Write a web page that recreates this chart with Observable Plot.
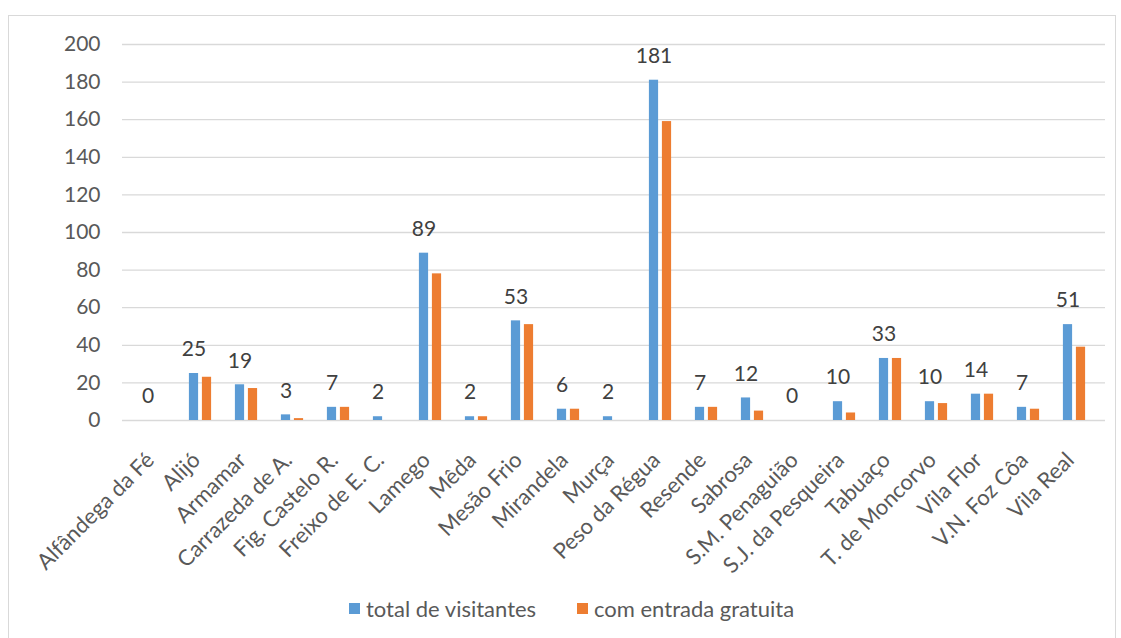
<!DOCTYPE html>
<html>
<head>
<meta charset="utf-8">
<script src="https://cdn.jsdelivr.net/npm/d3@7"></script>
<script src="https://cdn.jsdelivr.net/npm/@observablehq/plot@0.6"></script>
<style>
  html, body { margin: 0; padding: 0; background: #fff; overflow: hidden; }
  body { width: 1121px; height: 638px; position: relative; font-family: Lato, "Open Sans", sans-serif; }
  #frame { position: absolute; left: 8px; top: 15px; width: 1108px; height: 700px; border: 1.5px solid #d9d9d9; box-sizing: border-box; pointer-events: none; }
  #chart { position: absolute; left: 0; top: 0; }
  #legend { position: absolute; left: 0; top: 585px; width: 1121px; height: 53px; }
  .item { position: absolute; top: 10px; display: flex; align-items: center; font-size: 22px; color: #595959; }
  .sw { width: 11px; height: 11px; margin-right: 6px; }
</style>
</head>
<body>
<div id="frame"></div>
<div id="chart"></div>
<div id="legend">
  <div class="item" style="left:349px"><div class="sw" style="background:#5b9bd5"></div><span>total de visitantes</span></div>
  <div class="item" style="left:577px"><div class="sw" style="background:#ed7d31"></div><span>com entrada gratuita</span></div>
</div>
<script>
const categories = ["Alfândega da Fé","Alijó","Armamar","Carrazeda de A.","Fig. Castelo R.","Freixo de E. C.","Lamego","Mêda","Mesão Frio","Mirandela","Murça","Peso da Régua","Resende","Sabrosa","S.M. Penaguião","S.J. da Pesqueira","Tabuaço","T. de Moncorvo","Vila Flor","V.N. Foz Côa","Vila Real"];
const totalVisitantes = [0,25,19,3,7,2,89,2,53,6,2,181,7,12,0,10,33,10,14,7,51];
const entradaGratuita = [0,23,17,1,7,0,78,2,51,6,0,159,7,5,0,4,33,9,14,6,39];
const yTicks = [0,20,40,60,80,100,120,140,160,180,200];

const data = categories.map((c, i) => ({cat: c, total: totalVisitantes[i], free: entradaGratuita[i]}));

const chart = Plot.plot({
  width: 1121,
  height: 585,
  marginTop: 44,
  marginBottom: 165,
  marginLeft: 122,
  marginRight: 16,
  style: {fontFamily: "Lato, 'Open Sans', sans-serif", fontSize: "21px", color: "#595959", background: "transparent", overflow: "visible"},
  x: {domain: categories, padding: 0, label: null},
  y: {domain: [0, 200], label: null},
  marks: [
    Plot.ruleY(yTicks, {stroke: "#d9d9d9", strokeWidth: 1.3}),
    Plot.barY(data, {x: "cat", y: "total", fill: "#5b9bd5", insetLeft: 11.9, insetRight: 24.9}),
    Plot.barY(data, {x: "cat", y: "free", fill: "#ed7d31", insetLeft: 24.9, insetRight: 11.9}),
    Plot.text(data, {x: "cat", y: "total", text: d => String(d.total), dx: -6.5, dy: -24, fontSize: 21, fill: "#404040"}),
    Plot.axisY({ticks: yTicks, tickSize: 0, tickPadding: 22, fontSize: 21, label: null}),
    Plot.axisX({tickRotate: -45, tickSize: 0, tickPadding: 36, dx: -4, fontSize: 22, label: null})
  ]
});
document.getElementById("chart").appendChild(chart);
</script>
</body>
</html>
